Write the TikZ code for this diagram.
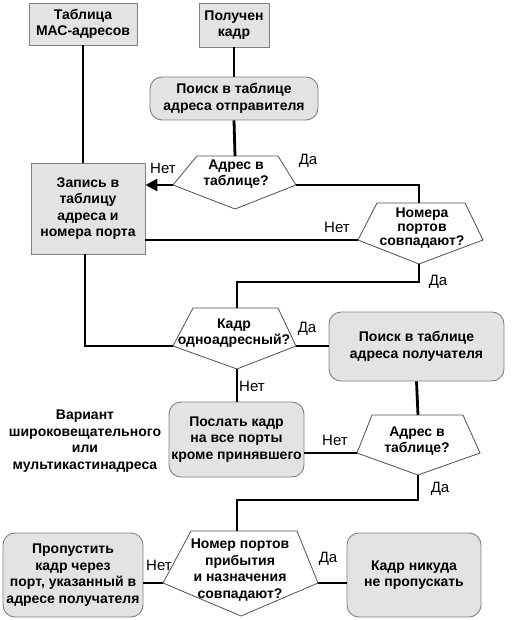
\documentclass[tikz,border=0pt]{standalone}
\usepackage{fontspec}
\setmainfont{Liberation Sans}
\usetikzlibrary{arrows.meta}
\definecolor{boxfill}{HTML}{E3E3E3}
\definecolor{boxline}{HTML}{808080}
\definecolor{pentline}{HTML}{505050}
\begin{document}
\begin{tikzpicture}[x=1pt,y=-1pt,
  txt/.style={font=\bfseries\fontsize{14}{16.5}\selectfont, align=center, inner sep=0pt},
  box/.style={txt, draw=boxline, fill=boxfill, line width=0.9pt},
  rbox/.style={box, rounded corners=12pt},
  pent/.style={draw=pentline, fill=white, line width=0.8pt},
  lbl/.style={font=\fontsize{15}{17}\selectfont, inner sep=0pt},
  conn/.style={line width=2.8pt, black}]
\useasboundingbox (0,0) rectangle (518,620);

% boxes
\node[box, minimum width=108pt, minimum height=42pt] (T) at (83,24) {Таблица\\МАС-адресов};
\node[box, minimum width=70pt, minimum height=44pt] (P) at (234,25) {Получен\\кадр};
\node[rbox, minimum width=168pt, minimum height=43pt] (S1) at (234,98.5) {Поиск в таблице\\адреса отправителя};
\node[box, minimum width=114pt, minimum height=91pt] (W) at (88,208.5) {Запись в\\таблицу\\адреса и\\номера порта};
\node[rbox, minimum width=175pt, minimum height=69pt] (S2) at (416.5,346.5) {Поиск в таблице\\адреса получателя};
\node[rbox, minimum width=135pt, minimum height=75pt] (F) at (236.5,439.5) {Послать кадр\\на все порты\\кроме принявшего};
\node[rbox, minimum width=140pt, minimum height=84pt] (Lb) at (73,575) {Пропустить\\кадр через\\порт, указанный в\\адресе получателя};
\node[rbox, minimum width=134pt, minimum height=84pt] (Rb) at (414,575) {Кадр никуда\\не пропускать};

% pentagon A
\draw[pent] (197,156) -- (278,156) -- (296,185) -- (235,209) -- (173,185) -- cycle;
\coordinate (aT) at (235,156); \coordinate (aL) at (173,185); \coordinate (aR) at (296,185); \coordinate (aB) at (235,209);
\node[txt] (A) at (236,174) {Адрес в\\таблице?};
% pentagon B
\draw[pent] (377,203) -- (465,203) -- (483,240) -- (419,264) -- (358,240) -- cycle;
\coordinate (bT) at (419,203); \coordinate (bL) at (358,240); \coordinate (bR) at (483,240); \coordinate (bB) at (419,264);
\node[txt, font=\bfseries\fontsize{14}{13.8}\selectfont] (B) at (422,228) {Номера\\портов\\совпадают?};
% pentagon C
\draw[pent] (193,308) -- (278,308) -- (296,346) -- (237,369) -- (173,346) -- cycle;
\coordinate (cT) at (237,308); \coordinate (cL) at (173,346); \coordinate (cR) at (296,346); \coordinate (cB) at (237,369);
\node[txt] (C) at (234,333) {Кадр\\одноадресный?};
% pentagon D
\draw[pent] (372,415) -- (463,415) -- (480,453) -- (418,475) -- (357,453) -- cycle;
\coordinate (dT) at (418,415); \coordinate (dL) at (357,453); \coordinate (dR) at (480,453); \coordinate (dB) at (418,475);
\node[txt] (D) at (417,441) {Адрес в\\таблице?};
% pentagon E
\draw[pent] (191,531) -- (297,531) -- (318,583) -- (241,616) -- (163,583) -- cycle;
\coordinate (eT) at (237,531); \coordinate (eL) at (163,583); \coordinate (eR) at (318,583); \coordinate (eB) at (241,616);
\node[txt] (E) at (240,570) {Номер портов\\прибытия\\и назначения\\совпадают?};

% side note
\node[txt] (note) at (85,441) {Вариант\\широковещательного\\или\\мультикастинадреса};

% connectors
\draw[conn] (T.south) -- (T.south |- W.north);
\draw[conn] (P.south) -- (P.south |- S1.north);
\draw[conn] (S1.south) -- (aT);
\draw[conn, -{Triangle[length=12pt,width=12pt]}] (aL) -- (aL -| W.east);
\draw[conn] (aR) -| (bT);
\draw[conn] (bL) -- (bL -| W.east);
\draw[conn] (bB) -- ++(0,18) -| (cT);
\draw[conn] ([xshift=-3pt]W.south) |- (cL);
\draw[conn] (cR) -- (cR -| S2.west);
\draw[conn] (cB) -- (cB |- F.north);
\draw[conn] (S2.south) -- (dT);
\draw[conn] (dL) -- (dL -| F.east);
\draw[conn] (dB) -- ++(0,25) -| (eT);
\draw[conn] (eL) -- (eL -| Lb.east);
\draw[conn] (eR) -- (eR -| Rb.west);

% labels
\node[lbl] (n1) at (163,168) {Нет};
\node[lbl] (y1) at (308,161) {Да};
\node[lbl] (n2) at (337,227) {Нет};
\node[lbl] (y2) at (438,282) {Да};
\node[lbl] (y3) at (307,329) {Да};
\node[lbl] (n3) at (252,386) {Нет};
\node[lbl] (n4) at (335,440) {Нет};
\node[lbl] (y4) at (440,489) {Да};
\node[lbl] (n5) at (159,565) {Нет};
\node[lbl] (y5) at (328,559) {Да};
\end{tikzpicture}
\end{document}
